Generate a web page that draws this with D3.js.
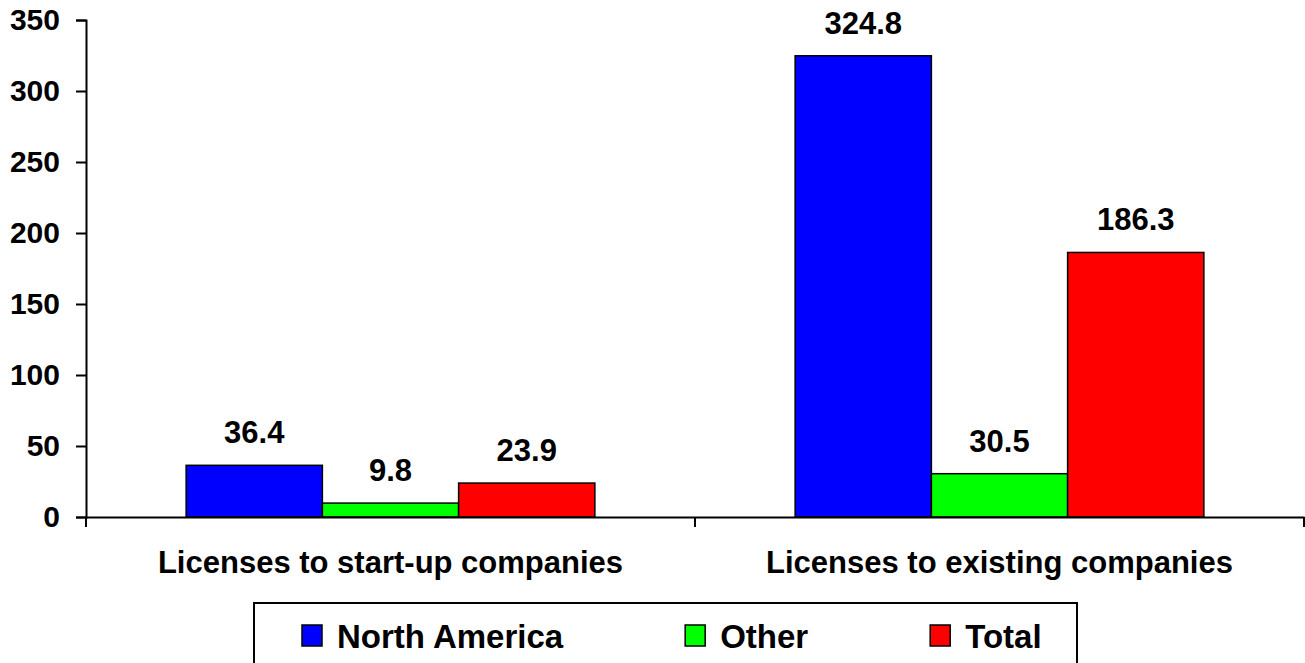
<!DOCTYPE html>
<html>
<head>
<meta charset="utf-8">
<script src="https://cdn.jsdelivr.net/npm/d3@7"></script>
<style>
  html, body { margin: 0; padding: 0; background: #fff; }
  svg { display: block; font-family: Arial, "Liberation Sans", sans-serif; font-weight: bold; }
</style>
</head>
<body>
<svg id="chart" width="1305" height="663"></svg>
<script>
// License counts by company type and region
const categories = ["Licenses to start-up companies", "Licenses to existing companies"];
const seriesNames = ["North America", "Other", "Total"];
const northAmerica = [36.4, 324.8];
const other = [9.8, 30.5];
const total = [23.9, 186.3];
const seriesColors = ["#0000FF", "#00FF00", "#FF0000"];
const yTicks = [0, 50, 100, 150, 200, 250, 300, 350];

const values = [northAmerica, other, total];

const svg = d3.select("#chart");
const plot = { left: 86, right: 1304, top: 20, bottom: 517 };

const y = d3.scaleLinear().domain([0, 350]).range([plot.bottom, plot.top]);

const x0 = d3.scaleBand()
  .domain(categories)
  .range([plot.left, plot.right])
  .paddingInner(0).paddingOuter(0);

const x1 = d3.scaleBand()
  .domain(seriesNames)
  .range([0, x0.bandwidth()])
  .paddingInner(0)
  .paddingOuter(0.735);

// Y axis
const yAxis = d3.axisLeft(y)
  .tickValues(yTicks)
  .tickSize(10)
  .tickPadding(16)
  .tickFormat(d3.format("d"));

const gy = svg.append("g")
  .attr("transform", `translate(${plot.left},0)`)
  .call(yAxis);
gy.select(".domain").attr("stroke", "#000").attr("stroke-width", 2);
gy.selectAll(".tick line").attr("stroke", "#000").attr("stroke-width", 2);
gy.selectAll(".tick text")
  .attr("fill", "#000")
  .style("font-size", "30px")
  .style("font-weight", "bold")
  .attr("font-family", "Arial, 'Liberation Sans', sans-serif");

// Bars
const groups = svg.append("g")
  .selectAll("g")
  .data(categories)
  .join("g")
  .attr("transform", d => `translate(${x0(d)},0)`);

groups.selectAll("rect")
  .data((c, ci) => seriesNames.map((s, si) => ({ s, v: values[si][ci], color: seriesColors[si] })))
  .join("rect")
  .attr("x", d => x1(d.s))
  .attr("y", d => y(d.v))
  .attr("width", x1.bandwidth())
  .attr("height", d => y(0) - y(d.v))
  .attr("fill", d => d.color)
  .attr("stroke", "#000")
  .attr("stroke-width", 1.5);

groups.selectAll("text.value")
  .data((c, ci) => seriesNames.map((s, si) => ({ s, v: values[si][ci] })))
  .join("text")
  .attr("class", "value")
  .attr("x", d => x1(d.s) + x1.bandwidth() / 2)
  .attr("y", d => y(d.v) - 22)
  .attr("text-anchor", "middle")
  .style("font-size", "31px")
  .attr("fill", "#000")
  .text(d => d.v.toFixed(1));

// X axis with category ticks at band edges
const xAxis = d3.axisBottom(x0).tickSize(0).tickPadding(0).tickFormat("");
const gx = svg.append("g")
  .attr("transform", `translate(0,${plot.bottom})`)
  .call(xAxis);
gx.select(".domain").attr("stroke", "#000").attr("stroke-width", 2);

const edges = categories.map(c => x0(c)).concat([x0(categories[categories.length - 1]) + x0.bandwidth()]);
gx.selectAll("line.edge")
  .data(edges)
  .join("line")
  .attr("class", "edge")
  .attr("x1", d => d).attr("x2", d => d)
  .attr("y1", 0).attr("y2", 10)
  .attr("stroke", "#000").attr("stroke-width", 2);

svg.append("g")
  .selectAll("text")
  .data(categories)
  .join("text")
  .attr("x", d => x0(d) + x0.bandwidth() / 2)
  .attr("y", 573)
  .attr("text-anchor", "middle")
  .style("font-size", "31px")
  .attr("fill", "#000")
  .text(d => d);

// Legend
const legend = svg.append("g");
legend.append("rect")
  .attr("x", 254).attr("y", 603)
  .attr("width", 823).attr("height", 80)
  .attr("fill", "#fff")
  .attr("stroke", "#000")
  .attr("stroke-width", 2);

let lx = 302;
seriesNames.forEach((name, i) => {
  legend.append("rect")
    .attr("x", lx).attr("y", 625)
    .attr("width", 20).attr("height", 21)
    .attr("fill", seriesColors[i])
    .attr("stroke", "#000")
    .attr("stroke-width", 1.5);
  const t = legend.append("text")
    .attr("x", lx + 35)
    .attr("y", 648)
    .style("font-size", "33px")
    .attr("fill", "#000")
    .text(name);
  lx += 35 + t.node().getComputedTextLength() + 122;
});
</script>
</body>
</html>
